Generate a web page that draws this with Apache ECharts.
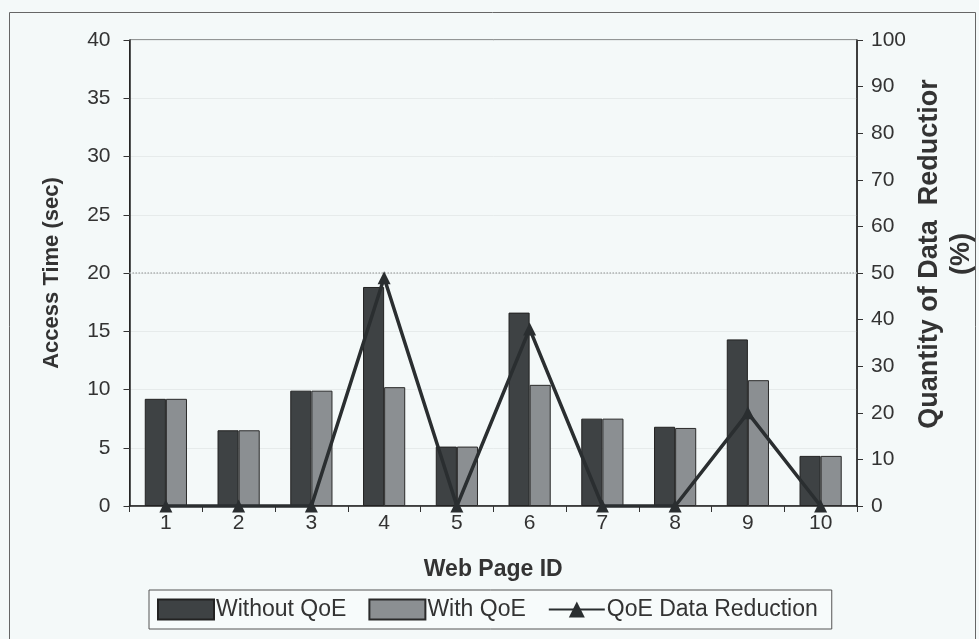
<!DOCTYPE html>
<html>
<head>
<meta charset="utf-8">
<script src="https://cdn.jsdelivr.net/npm/echarts@6/dist/echarts.min.js"></script>
<style>
  html, body { margin: 0; padding: 0; background: #f4f9f9; }
  #chart { width: 979px; height: 639px; }
</style>
</head>
<body>
<div id="chart"></div>
<script>
// Web page IDs along the category axis
const pageIds = ['1', '2', '3', '4', '5', '6', '7', '8', '9', '10'];
// Access time in seconds
const withoutQoE = [9.2, 6.5, 9.9, 18.8, 5.1, 16.6, 7.5, 6.8, 14.3, 4.3];
const withQoE = [9.2, 6.5, 9.9, 10.2, 5.1, 10.4, 7.5, 6.7, 10.8, 4.3];
// Percentage of data saved
const dataReduction = [0, 0, 0, 49, 0, 38, 0, 0, 20, 0];

const seriesNames = ['Without QoE', 'With QoE', 'QoE Data Reduction'];
const leftAxisTitle = 'Access Time (sec)';
const rightAxisTitle = 'Quantity of Data  Reductior\n(%)';
const xAxisTitle = 'Web Page ID';

const FONT = '"Liberation Sans", Arial, sans-serif';
const TEXT = '#333';

const chart = echarts.init(document.getElementById('chart'), null, { renderer: 'canvas' });

chart.setOption({
  backgroundColor: '#f4f9f9',
  animation: false,
  textStyle: { fontFamily: FONT, color: TEXT },
  graphic: [
    {
      type: 'rect',
      silent: true,
      shape: { x: 9.5, y: 12.5, width: 966, height: 640 },
      style: { fill: 'none', stroke: '#666', lineWidth: 1 }
    },
    {
      type: 'text',
      silent: true,
      x: 946,
      y: 254,
      rotation: Math.PI / 2,
      style: {
        text: rightAxisTitle,
        font: 'bold 27px ' + FONT,
        fill: TEXT,
        align: 'center',
        verticalAlign: 'middle',
        lineHeight: 32
      }
    }
  ],
  grid: {
    left: 129.5,
    right: 122,
    top: 40,
    bottom: 133,
    show: true,
    borderColor: '#333',
    borderWidth: 1,
    backgroundColor: 'transparent'
  },
  legend: {
    left: 149,
    top: 590,
    padding: [8, 14, 8, 8],
    itemGap: 22,
    itemWidth: 56,
    itemHeight: 20,
    backgroundColor: '#f7fbfb',
    borderColor: '#555',
    borderWidth: 1,
    borderRadius: 0,
    textStyle: { fontSize: 23, color: TEXT, fontFamily: FONT, padding: [0, 0, 0, -3] },
    data: [
      { name: seriesNames[0], icon: 'rect' },
      { name: seriesNames[1], icon: 'rect' },
      { name: seriesNames[2] }
    ]
  },
  xAxis: {
    type: 'category',
    data: pageIds,
    name: xAxisTitle,
    nameLocation: 'middle',
    nameGap: 52,
    nameTextStyle: { fontSize: 23, fontWeight: 'bold', color: TEXT },
    axisLine: { lineStyle: { color: '#222', width: 1.5 } },
    axisTick: { show: true, length: 6, lineStyle: { color: '#333' } },
    axisLabel: { fontSize: 21, color: TEXT, margin: 7 },
    splitLine: { show: false }
  },
  yAxis: [
    {
      type: 'value',
      min: 0,
      max: 40,
      interval: 5,
      name: leftAxisTitle,
      nameLocation: 'middle',
      nameGap: 67,
      nameRotate: 90,
      nameTextStyle: { fontSize: 22, fontWeight: 'bold', color: TEXT },
      axisLine: { show: true, lineStyle: { color: '#222', width: 1.5 } },
      axisTick: { show: true, length: 6, lineStyle: { color: '#333' } },
      axisLabel: { fontSize: 21, color: TEXT, margin: 19 },
      splitLine: { show: true, lineStyle: { color: '#e6ebeb', width: 1 } }
    },
    {
      type: 'value',
      min: 0,
      max: 100,
      interval: 10,
      position: 'right',
      axisLine: { show: true, lineStyle: { color: '#222', width: 1.5 } },
      axisTick: { show: true, length: 6, lineStyle: { color: '#333' } },
      axisLabel: { fontSize: 21, color: TEXT, margin: 14 },
      splitLine: { show: false }
    }
  ],
  series: [
    {
      name: seriesNames[0],
      type: 'bar',
      data: withoutQoE,
      yAxisIndex: 0,
      barGap: '0%',
      barCategoryGap: '42%',
      itemStyle: { color: '#3e4244', borderColor: '#222', borderWidth: 1 },
      markLine: {
        silent: true,
        symbol: 'none',
        label: { show: false },
        lineStyle: { color: '#aeb2b3', type: 'dotted', width: 1.5 },
        data: [{ yAxis: 20 }]
      }
    },
    {
      name: seriesNames[1],
      type: 'bar',
      data: withQoE,
      yAxisIndex: 0,
      itemStyle: { color: '#8b8f92', borderColor: '#2a2a2a', borderWidth: 1 }
    },
    {
      name: seriesNames[2],
      type: 'line',
      data: dataReduction,
      yAxisIndex: 1,
      symbol: 'triangle',
      symbolSize: 13,
      clip: false,
      lineStyle: { color: '#2a2e30', width: 3.5 },
      itemStyle: { color: '#2a2e30' },
      z: 5
    }
  ]
});
</script>
</body>
</html>
